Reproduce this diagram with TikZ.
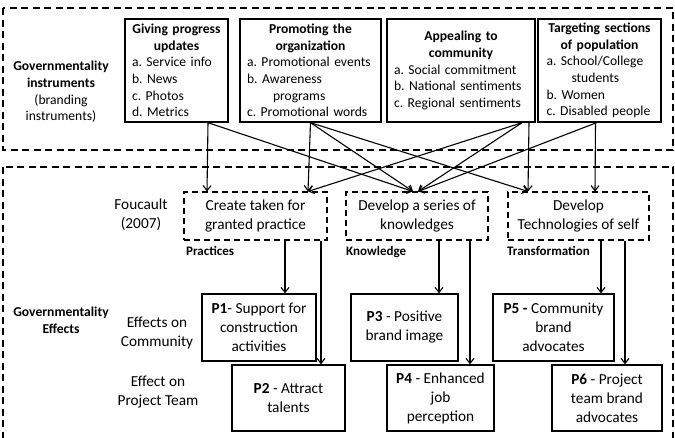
\documentclass[tikz,border=0pt]{standalone}
\usepackage{fontspec}
\setmainfont{Carlito}
\usetikzlibrary{arrows.meta}
\frenchspacing
\hyphenpenalty=10000

\tikzset{
	region/.style={line width=1.1pt, dash pattern=on 7pt off 4.5pt},
	instr/.style={draw, line width=1.4pt, minimum height=103, inner xsep=0pt,
		inner ysep=0pt, align=left, font=\fontsize{13.6}{16.7}\selectfont},
	idea/.style={draw, line width=1.1pt, dash pattern=on 6pt off 4pt,
		minimum height=48, align=center, font=\fontsize{15.3}{19}\selectfont},
	effect/.style={draw, line width=1.4pt, minimum height=67, align=center,
		font=\fontsize{15.3}{19}\selectfont},
	lbl/.style={align=center, font=\fontsize{15.3}{19}\selectfont},
	grp/.style={align=center, font=\fontsize{13.6}{16.7}\selectfont},
	tag/.style={anchor=base west, inner sep=0pt, font=\fontsize{13}{15}\selectfont\bfseries},
	arr/.style={-{Straight Barb[length=5pt,width=8pt]}, line width=1.1pt},
}

\begin{document}
\begin{tikzpicture}[x=1pt,y=-1pt]
	\useasboundingbox (0,0) rectangle (675,437);
	
	% the two regions
	\draw[region] (3,8) rectangle (673,150);
	\draw[region] (3,167) rectangle (673,445);
	
	\node[grp] (instr) at (61,92) {\textbf{Governmentality}\\ \textbf{instruments}\\ 
		(branding\\ instruments)};
	\node[grp] (govfx) at (61,320) {\textbf{Governmentality}\\ \textbf{Effects}};
	
	% instruments
	\node[instr, minimum width=103, text width=89] (upd) at (176.5,70.5) 
	{{\centering\bfseries Giving progress\\ updates\par}
		a. Service info\\ b. News\\ c. Photos\\ d. Metrics};
	\node[instr, minimum width=141, text width=127] (promo) at (310.5,70.5) 
	{{\centering\bfseries Promoting the\\ organization\par}
		a. Promotional events\\ b. Awareness\\ \hspace*{26pt}programs\\ 
		c. Promotional words};
	\node[instr, minimum width=148, text width=134] (appeal) at (461,70.5) 
	{{\centering\bfseries Appealing to\\ community\par}
		a. Social commitment\\ b. National sentiments\\ c. Regional sentiments};
	\node[instr, minimum width=123, text width=106] (target) at (599.5,70.5) 
	{{\centering\bfseries Targeting sections\\ of population\par}
		a. School/College\\ \hspace*{25pt}students\\ b. Women\\ c. Disabled people};
	
	% Foucault
	\node[lbl] (fouc) at (141,214.5) {Foucault\\ (2007)};
	\node[idea, minimum width=143] (practice) at (255.5,216) 
	{Create taken for\\ granted practice};
	\node[idea, minimum width=142] (knowl) at (417,216) 
	{Develop a series of\\ knowledges};
	\node[idea, minimum width=141] (techself) at (578.5,216) 
	{Develop\\ Technologies of self};
	\node[tag] at (186,255) {Practices};
	\node[tag] at (346,255) {Knowledge};
	\node[tag] at (507,255) {Transformation};
	
	% effects
	\node[lbl] (oncomm) at (157,332.5) {Effects on\\ Community};
	\node[lbl] (onteam) at (158,392.5) {Effect on\\ Project Team};
	\node[effect, minimum width=114] (pone) at (259,327.5) 
	{\textbf{P1}- Support for\\ construction\\ activities};
	\node[effect, minimum width=113, minimum height=66] (ptwo) at (288.5,398) 
	{\textbf{P2} - Attract\\ talents};
	\node[effect, minimum width=107] (pthree) at (404.5,327.5) 
	{\textbf{P3} - Positive\\ brand image};
	\node[effect, minimum width=107, minimum height=66] (pfour) at (440.5,398) 
	{\textbf{P4} - Enhanced\\ job\\ perception};
	\node[effect, minimum width=121] (pfive) at (553.5,327.5) 
	{\textbf{P5 -} Community\\ brand\\ advocates};
	\node[effect, minimum width=110, minimum height=66] (psix) at (607,398) 
	{\textbf{P6} - Project\\ team brand\\ advocates};
	
	% instruments to Foucault
	\draw[arr] ([xshift=31.5]upd.south) -- ([xshift=-48.5]practice.north);
	\draw[arr] ([xshift=31.5]upd.south) -- ([xshift=-4]knowl.north);
	\draw[arr] (promo.south) -- ([xshift=52.5]practice.north);
	\draw[arr] (promo.south) -- ([xshift=-4]knowl.north);
	\draw[arr] (promo.south) -- ([xshift=-50.5]techself.north);
	\draw[arr] ([xshift=61]appeal.south) -- ([xshift=52.5]practice.north);
	\draw[arr] ([xshift=61]appeal.south) -- ([xshift=1]knowl.north);
	\draw[arr] ([xshift=68]appeal.south) -- ([xshift=-50.5]techself.north);
	\draw[arr] ([xshift=-3]target.south) -- ([xshift=1]knowl.north);
	\draw[arr] ([xshift=-4]target.south) -- ([xshift=16.5]techself.north);
	
	% Foucault to effects
	\draw[arr] ([xshift=29.5]practice.south) -- ([xshift=26]pone.north);
	\draw[arr] ([xshift=65.5]practice.south) -- ([xshift=32.5]ptwo.north);
	\draw[arr] ([xshift=22]knowl.south) -- ([xshift=34.5]pthree.north);
	\draw[arr] ([xshift=53]knowl.south) -- ([xshift=29.5]pfour.north);
	\draw[arr] ([xshift=22.5]techself.south) -- ([xshift=47.5]pfive.north);
	\draw[arr] ([xshift=46.5]techself.south) -- ([xshift=18]psix.north);
\end{tikzpicture}
\end{document}
